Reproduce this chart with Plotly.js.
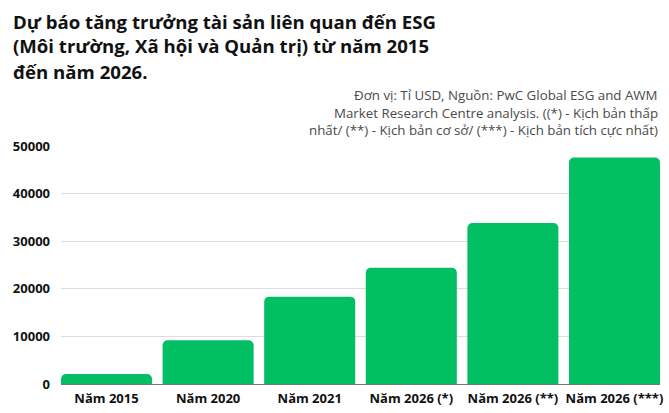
<!DOCTYPE html>
<html>
<head>
<meta charset="utf-8">
<script src="https://cdn.plot.ly/plotly-3.0.1.min.js"></script>
<style>
  html, body { margin: 0; padding: 0; background: #fff; }
  #chart { width: 669px; height: 413px; }
</style>
</head>
<body>
<div id="chart"></div>
<script>
// Data (Tỉ USD)
const categories = ['Năm 2015', 'Năm 2020', 'Năm 2021', 'Năm 2026 (*)', 'Năm 2026 (**)', 'Năm 2026 (***)'];
const assetValues = [2100, 9200, 18350, 24400, 33800, 47600];
const yTicks = [0, 10000, 20000, 30000, 40000, 50000];

const titleLines = [
  'Dự báo tăng trưởng tài sản liên quan đến ESG',
  '(Môi trường, Xã hội và Quản trị) từ năm 2015',
  'đến năm 2026.'
];
const noteLines = [
  'Đơn vị: Tỉ USD, Nguồn: PwC Global ESG and AWM',
  'Market Research Centre analysis. ((*) - Kịch bản thấp',
  'nhất/ (**) - Kịch bản cơ sở/ (***) - Kịch bản tích cực nhất)'
];

const fontFamily = '"Open Sans", "DejaVu Sans", sans-serif';

// plot area: top 146px, bottom 384px in the page
const plotTop = 146, plotBottom = 384;
const toPaperY = px => (plotBottom - px) / (plotBottom - plotTop);

const trace = {
  x: categories,
  y: assetValues,
  type: 'bar',
  marker: { color: '#02bf63', cornerradius: 5 },
  hoverinfo: 'x+y'
};

const annotations = [];
titleLines.forEach((line, i) => {
  annotations.push({
    text: line,
    xref: 'paper', yref: 'paper',
    x: (11 - 61) / 599, y: toPaperY(21 + i * 25),
    xanchor: 'left', yanchor: 'middle',
    showarrow: false,
    font: { family: fontFamily, size: 18.6, color: '#111111', weight: 700 }
  });
});
noteLines.forEach((line, i) => {
  annotations.push({
    text: line,
    xref: 'paper', yref: 'paper',
    x: 1.0, y: toPaperY(95 + i * 17.5),
    xanchor: 'right', yanchor: 'middle',
    showarrow: false,
    font: { family: fontFamily, size: 13.3, color: '#4a4a4a' }
  });
});

const layout = {
  width: 669,
  height: 413,
  margin: { l: 61, r: 9, t: plotTop, b: 413 - plotBottom },
  paper_bgcolor: '#ffffff',
  plot_bgcolor: '#ffffff',
  font: { family: fontFamily, color: '#111111' },
  showlegend: false,
  bargap: 0.104,
  annotations: annotations,
  xaxis: {
    type: 'category',
    range: [-0.448, 5.448],
    showgrid: false,
    showline: false,
    ticks: '',
    ticklabelstandoff: 5,
    tickfont: { family: fontFamily, size: 13, color: '#111111', weight: 700 },
    fixedrange: true
  },
  yaxis: {
    range: [0, 50000],
    tickvals: yTicks,
    ticktext: yTicks.map(String),
    showgrid: true,
    gridcolor: '#dddddd',
    gridwidth: 1,
    zeroline: true,
    zerolinecolor: '#777777',
    zerolinewidth: 1,
    ticks: '',
    ticklabelstandoff: 10,
    tickfont: { family: fontFamily, size: 13, color: '#111111', weight: 700 },
    fixedrange: true
  }
};

Plotly.newPlot('chart', [trace], layout, { displayModeBar: false, staticPlot: true });
</script>
</body>
</html>
